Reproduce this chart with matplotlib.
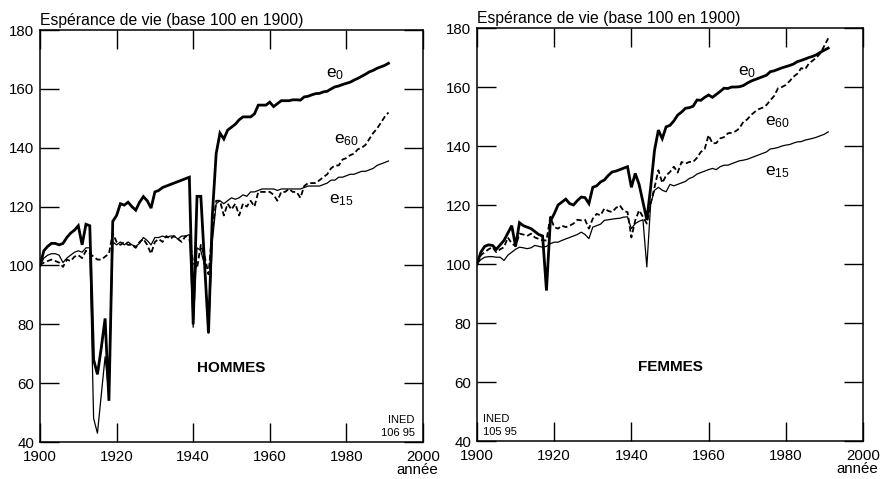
import matplotlib
matplotlib.use("Agg")
import matplotlib.pyplot as plt

plt.rcParams['font.family'] = ['Liberation Sans', 'DejaVu Sans']
plt.rcParams['mathtext.fontset'] = 'custom'
plt.rcParams['mathtext.rm'] = 'Liberation Sans'
plt.rcParams['mathtext.it'] = 'Liberation Sans'
plt.rcParams['mathtext.default'] = 'regular'

years = list(range(1900, 1992))

# HOMMES (base 100 en 1900)
h_e0 = [100, 105, 106.5, 107.5, 107.5, 107, 107.5, 109.5, 111, 112,
        113.5, 107, 114, 113.5, 68, 63, 72, 82, 54, 115,
        117, 121, 120.5, 121.5, 120, 118.8, 121.5, 123.4, 122, 119.5,
        125, 125.5, 126.5, 127, 127.5, 128, 128.5, 129, 129.5, 130,
        80, 123.5, 123.5, 100, 77, 117, 138, 145, 143, 146,
        147, 148, 149.5, 150.5, 150.5, 150.5, 151.5, 154.5, 154.5, 154.5,
        155.5, 154, 155, 156, 156, 156, 156.3, 156.3, 156.2, 157.3,
        157.5, 158, 158.4, 158.5, 159, 159.2, 160, 160.7, 161, 161.5,
        161.9, 162.3, 163, 163.6, 164.3, 165, 165.8, 166.3, 167, 167.5,
        168, 168.7]
h_e15 = [100, 102.5, 103.5, 104, 104, 103.5, 101, 102.5, 103.5, 104.5,
         105, 104.5, 106, 106, 48, 43, 56, 69, 56, 108,
         107, 108, 107, 108, 107, 106.5, 107.5, 109.5, 108.5, 107,
         109.5, 109.5, 110, 109.5, 110, 110, 109, 110, 110, 110.5,
         79, 106, 105, 100, 77, 108, 121, 122, 121, 122,
         123, 122.5, 123, 124, 123.5, 125, 125, 125.5, 126, 126,
         126, 126, 125.5, 126, 126, 126, 126, 126, 126, 126.5,
         127, 127, 127, 127, 127.5, 128, 129, 129, 130, 130,
         130.5, 131, 131, 131.5, 132, 132, 132.5, 133, 134, 134.5,
         135, 135.5]
h_e60 = [100, 101, 101.5, 102, 101.5, 101, 99.5, 102, 101.5, 103,
         103.5, 102.5, 105, 104, 103, 102, 102, 103, 104, 111,
         108, 107, 108, 107, 107, 106, 108, 109, 107, 104,
         108, 109, 108, 110, 109, 110, 109, 108, 110, 109,
         101, 99, 107, 103, 97, 112, 122, 122, 117, 121,
         119, 121, 117, 121, 120, 122, 120, 125, 125, 125,
         125, 124, 122, 125, 125, 126, 125, 125, 123, 127,
         128, 128, 128, 129, 130, 131, 133, 134, 134, 136,
         136.5, 137.5, 138, 139.5, 140, 141, 143, 145, 146.5, 148.5,
         150.5, 152]

# FEMMES (base 100 en 1900)
f_e0 = [100, 104, 106, 106.5, 106.3, 105, 106.5, 108, 110.5, 113,
        106, 114, 113, 112.5, 112, 111, 110, 109.5, 91, 114.5,
        117, 120, 121, 122, 120.5, 120, 121.5, 122.7, 122.5, 120.5,
        126, 126.5, 127.8, 128.5, 130, 131.2, 131.5, 132, 132.5, 133,
        126, 130.7, 127, 121, 115, 126, 138.6, 145.4, 142.5, 146.5,
        147, 148.5, 150.5, 151.5, 152.8, 153, 153.5, 155.6, 155.5, 156.5,
        157.3, 156.5, 157.5, 158.5, 159.6, 159.5, 160, 160, 160.1, 160.5,
        161.3, 162, 162.5, 163, 163.5, 164, 165.2, 165.5, 166, 166.5,
        166.9, 167.3, 167.8, 168.6, 169, 169.5, 170, 170.4, 171, 171.8,
        172.5, 173.2]
f_e15 = [100, 101.5, 102.3, 102.5, 102.5, 102.3, 102.3, 101.2, 103, 104,
         105, 105.7, 105.5, 105.2, 105.5, 106.3, 106, 105.7, 106, 106.9,
         107.4, 107.4, 108, 108.5, 109, 109.5, 110, 110.8, 110, 108.6,
         112.5, 113, 113.5, 114.8, 115, 115.2, 115.4, 115.5, 115.9, 116,
         112, 113.7, 114.5, 115, 99, 120.5, 125, 126, 125, 124.5,
         127, 126.5, 127, 127.5, 128, 129, 129.5, 130.5, 131, 131.5,
         132, 132.4, 132, 133, 133.5, 133.5, 134, 134.5, 135, 135.2,
         135.5, 136, 136.5, 137, 137.5, 138, 139, 139.2, 139.5, 140,
         140.3, 140.5, 141, 141.4, 141.5, 142, 142.3, 142.6, 143, 143.5,
         144, 144.8]
f_e60 = [100, 103, 104, 105, 105.7, 104, 105, 105.7, 109, 107,
         106, 110.3, 110, 109.5, 110.3, 109, 108.5, 108, 108, 116,
         112.5, 112, 113, 112.5, 113, 113.7, 115, 114.8, 115, 112,
         115.4, 117, 116.5, 118.8, 118, 117.6, 119, 119.9, 118, 117.6,
         109, 114.8, 118.2, 116, 113.7, 120.5, 126, 131.8, 127.5, 130,
         131.2, 133, 131, 134.6, 134, 134.6, 134.6, 136, 138, 139,
         143.7, 140.9, 141, 142.6, 143, 144.3, 144.5, 145, 146, 148.2,
         149, 150.5, 151.6, 152.5, 153, 153.9, 155.5, 157, 159.6, 160,
         160.7, 162, 163.5, 164.5, 166.4, 166, 168, 169, 170, 171.5,
         174, 176.5]

panels = [
    dict(rect=[0.0453, 0.0772, 0.4337, 0.860], e0=h_e0, e15=h_e15, e60=h_e60,
         name='HOMMES', ined='INED\n106 95', ined_x=1997.8, ined_ha='right',
         lab0=(1974.6, 163.8), lab60=(1976.7, 141.6), lab15=(1975.4, 121.2)),
    dict(rect=[0.5402, 0.0793, 0.4371, 0.8622], e0=f_e0, e15=f_e15, e60=f_e60,
         name='FEMMES', ined='INED\n105 95', ined_x=1901.6, ined_ha='left',
         lab0=(1967.7, 164.1), lab60=(1974.7, 147.1), lab15=(1974.7, 130.1)),
]

fig = plt.figure(figsize=(8.83, 4.79), dpi=100)

for p in panels:
    ax = fig.add_axes(p['rect'])
    ax.plot(years, p['e0'], color='black', lw=2.0, solid_joinstyle='miter')
    ax.plot(years, p['e15'], color='black', lw=0.9)
    ax.plot(years, p['e60'], color='black', lw=1.3, dashes=(3, 1.6))

    ax.set_xlim(1900, 2000)
    ax.set_ylim(40, 180)
    ax.set_xticks(range(1900, 2001, 20))
    ax.set_yticks(range(40, 181, 20))
    ax.tick_params(direction='in', length=14, width=1, top=True, right=True,
                   labelsize=10.8, color='black')
    ax.tick_params(axis='x', pad=5.5)
    ax.tick_params(axis='y', pad=4)
    for s in ax.spines.values():
        s.set_linewidth(1.1)

    ax.text(0, 1.006, 'Espérance de vie (base 100 en 1900)', transform=ax.transAxes,
            ha='left', va='bottom', fontsize=11.3)
    ax.text(1998.5, -0.05, 'année', transform=ax.get_xaxis_transform(),
            ha='center', va='top', fontsize=10.8)
    ax.text(1950, 65, p['name'], ha='center', va='center',
            fontsize=11, fontweight='bold')
    ax.text(p['ined_x'], 41.5, p['ined'], ha=p['ined_ha'], va='bottom',
            multialignment=p['ined_ha'], fontsize=8, linespacing=1.3)

    ax.text(*p['lab0'], 'e$_{0}$', fontsize=12.5, ha='left', va='baseline')
    ax.text(*p['lab60'], 'e$_{60}$', fontsize=12.5, ha='left', va='baseline')
    ax.text(*p['lab15'], 'e$_{15}$', fontsize=12.5, ha='left', va='baseline')

fig.savefig('out.png', dpi=100)
